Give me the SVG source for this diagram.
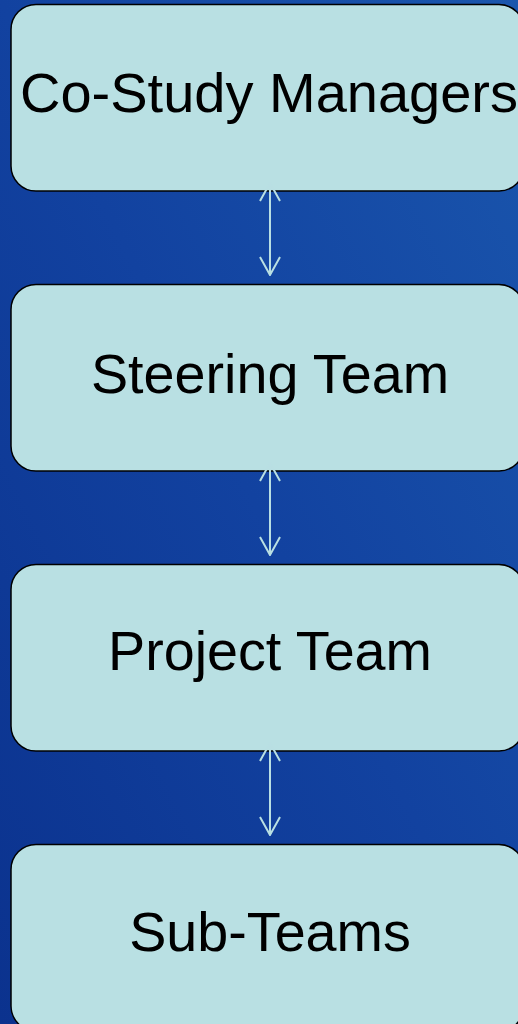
<svg xmlns="http://www.w3.org/2000/svg" width="518" height="1024" viewBox="0 0 518 1024">
  <defs>
    <linearGradient id="bg" x1="0" y1="1" x2="1" y2="0">
      <stop offset="0" stop-color="#0b328e"/>
      <stop offset="0.5" stop-color="#1242a0"/>
      <stop offset="1" stop-color="#1a56ad"/>
    </linearGradient>
    <marker id="ah" viewBox="0 0 20 22" refX="19" refY="11" markerWidth="20" markerHeight="22" markerUnits="userSpaceOnUse" orient="auto-start-reverse">
      <path d="M1,1 L19,11 L1,21" fill="none" stroke="#b9dfe3" stroke-width="2"/>
    </marker>
    <style>
      .box { fill: #b9e0e3; stroke: #000; stroke-width: 1.5; }
      .lbl { font-family: "Liberation Sans", Arial, sans-serif; font-size: 55.7px; fill: #000; text-anchor: middle; }
      .con { stroke: #b9dfe3; stroke-width: 2; fill: none; marker-start: url(#ah); marker-end: url(#ah); }
    </style>
  </defs>
  <rect x="0" y="0" width="518" height="1024" fill="url(#bg)"/>
  <g id="node-co-study-managers">
    <rect class="box" x="11" y="4.5" width="513" height="186.5" rx="25" ry="25"/>
    <text class="lbl" x="269" y="112" style="font-size:56px">Co-Study Managers</text>
  </g>
  <g id="node-steering-team">
    <rect class="box" x="11" y="284.5" width="513" height="186.5" rx="25" ry="25"/>
    <text class="lbl" x="270" y="393">Steering Team</text>
  </g>
  <g id="node-project-team">
    <rect class="box" x="11" y="564.5" width="513" height="186.5" rx="25" ry="25"/>
    <text class="lbl" x="270" y="670">Project Team</text>
  </g>
  <g id="node-sub-teams">
    <rect class="box" x="11" y="844.5" width="513" height="186.5" rx="25" ry="25"/>
    <text class="lbl" x="270" y="951">Sub-Teams</text>
  </g>
  <g id="connectors">
    <line class="con" x1="270" y1="183" x2="270" y2="275"/>
    <line class="con" x1="270" y1="463" x2="270" y2="555"/>
    <line class="con" x1="270" y1="743" x2="270" y2="835"/>
  </g>
</svg>
